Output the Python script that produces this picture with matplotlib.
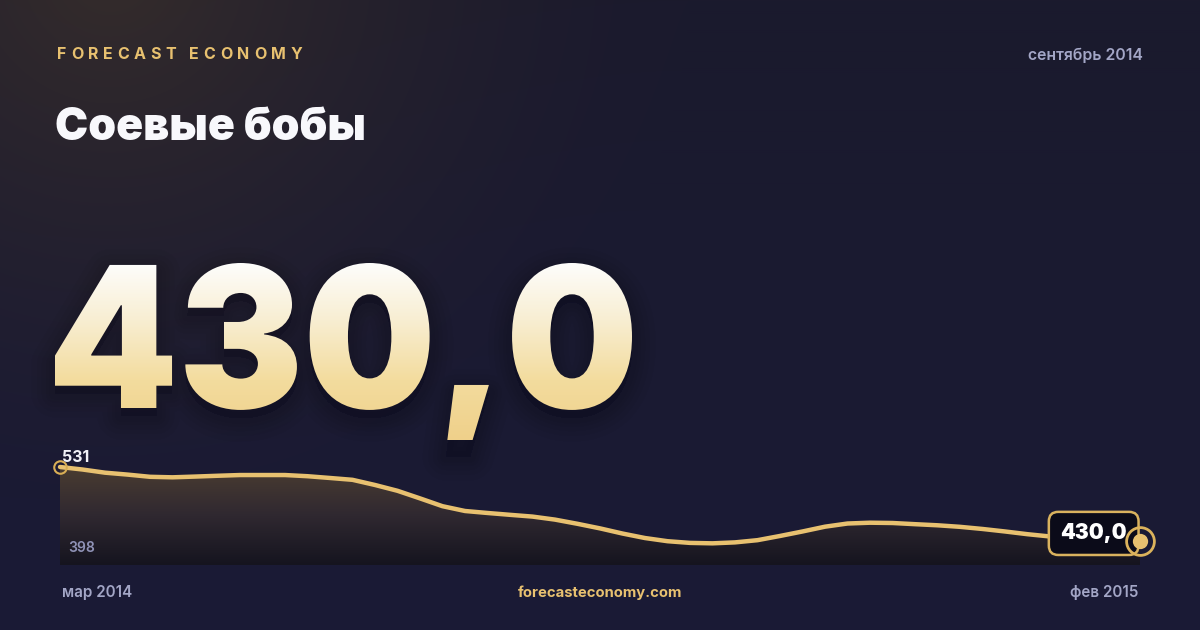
import numpy as np
import matplotlib.pyplot as plt
from matplotlib.font_manager import FontProperties
from matplotlib.textpath import TextPath, text_to_path
from matplotlib.patches import PathPatch
from matplotlib.transforms import Affine2D
from matplotlib.colors import LinearSegmentedColormap, to_rgb

W, H = 1200, 630

brand = "FORECAST ECONOMY"
period = "сентябрь 2014"
title = "Соевые бобы"
current = "430,0"
start_label = "мар 2014"
end_label = "фев 2015"
site = "forecasteconomy.com"

# price path (mar 2014 .. feb 2015, evenly spaced)
prices = [531.0, 527.6, 523.3, 520.7, 517.7, 517.0, 518.0, 519.1,
          520.1, 520.1, 520.1, 518.5, 516.1, 513.6, 506.6, 498.7,
          488.4, 477.8, 471.3, 468.6, 466.1, 463.7, 459.6, 453.9,
          447.7, 440.7, 434.6, 430.3, 428.0, 427.4, 428.7, 431.7,
          437.4, 443.5, 450.0, 454.3, 455.4, 455.0, 453.4, 451.9,
          449.8, 446.9, 443.5, 439.8, 436.7, 434.9, 433.3, 431.5,
          430.0]
axis_lo, axis_hi = 398, 531

GOLD = '#e8c170'
GREY = '#a3a6c6'
FAM = ['Inter', 'Roboto', 'DejaVu Sans']

def px(v):
    return v * 0.72  # pixel size -> points at dpi 100

fig = plt.figure(figsize=(12, 6.3), dpi=100)

# background
bg = fig.add_axes([0, 0, 1, 1])
yy, xx = np.mgrid[0:H, 0:W]
t = (yy / H)[..., None]
img = np.array(to_rgb('#1b1a2d')) * (1 - t) + np.array(to_rgb('#1a1a36')) * t
r = np.hypot(xx - 110, yy + 30) / 580
glow = (np.clip(1 - r, 0, 1) ** 1.6)[..., None]
img = img * (1 - glow * 0.7) + np.array(to_rgb('#40342b')) * glow * 0.7
bg.imshow(img, extent=[0, W, H, 0], aspect='auto', zorder=0)
bg.set_xlim(0, W)
bg.set_ylim(H, 0)
bg.axis('off')

# letter-spaced brand line
bprop = FontProperties(family=FAM, weight='bold', size=px(16))
widths = []
for ch in brand:
    w, h, d = text_to_path.get_text_width_height_descent(ch, bprop, ismath=False)
    widths.append(w * 100 / 72)
track = (302 - 57 - sum(widths)) / (len(brand) - 1)
xpos = 57
for ch, w in zip(brand, widths):
    bg.text(xpos, 59, ch, color=GOLD, fontproperties=bprop, va='baseline', ha='left', zorder=4)
    xpos += w + track

bg.text(1143, 60, period, color=GREY, fontsize=px(15.8), fontweight='semibold',
        family=FAM, ha='right', va='baseline', zorder=4)
bg.text(55, 140, title, color='#f8f8fc', fontsize=px(44.5), fontweight='black',
        family=FAM, ha='left', va='baseline', zorder=4)

# big gradient number
big_prop = FontProperties(family=FAM, weight='black')
tp = TextPath((0, 0), current, size=100, prop=big_prop)
ext = tp.get_extents()
sx = (632 - 55) / ext.width
sy = 145 / ext.y1
base = 408
path = Affine2D().scale(sx, -sy).translate(55 - ext.x0 * sx, base).transform_path(tp)
shadow = Affine2D().translate(0, 8).transform_path(path)
for lw in [34, 26, 19, 13, 8]:
    bg.add_patch(PathPatch(shadow, fc='#06060e', ec='#06060e', lw=lw, alpha=0.035,
                           joinstyle='round', zorder=2))
grad = np.linspace(0, 1, 256)[:, None]
big_cmap = LinearSegmentedColormap.from_list('big', ['#fefefe', '#f8eed2', '#f3dc9e', '#efd08a'])
gim = bg.imshow(grad, extent=[45, 645, 440, 260], cmap=big_cmap, aspect='auto', zorder=3)
clip = PathPatch(path, fc='none', ec='none', transform=bg.transData)
bg.add_patch(clip)
gim.set_clip_path(clip)

# mini chart
ax = fig.add_axes([60 / W, 1 - 565 / H, 1080 / W, 98 / H], zorder=2)
ax.patch.set_alpha(0)
x = np.arange(len(prices))
ax.set_xlim(0, len(prices) - 1)
ax.set_ylim(axis_lo, axis_hi)
ax.axis('off')
poly = ax.fill_between(x, prices, axis_lo, facecolor='none', edgecolor='none')
fill_cmap = LinearSegmentedColormap.from_list('fill', ['#4a3c31', '#2f2830', '#15141f'])
fim = ax.imshow(grad, extent=[0, len(prices) - 1, axis_lo, axis_hi],
                cmap=fill_cmap, aspect='auto', zorder=1)
fim.set_clip_path(poly.get_paths()[0], ax.transData)
ax.plot(x, prices, color=GOLD, lw=3.2, solid_capstyle='round', solid_joinstyle='round',
        clip_on=False, zorder=3)
ax.plot(x[0], prices[0], 'o', ms=9, mfc='none', mec='#d9ae55', mew=1.5, clip_on=False, zorder=4)

ax.annotate(current, xy=(x[-1], prices[-1]), xytext=(-13, 8), textcoords='offset pixels',
            ha='right', va='center', color='white', fontsize=px(21), fontweight='black',
            family=FAM, annotation_clip=False, zorder=5,
            bbox=dict(boxstyle='round,pad=0.55,rounding_size=0.45', fc='#0b0b19', ec='#d9b25e', lw=1.8))
ax.plot(x[-1], prices[-1], 'o', ms=20, mfc='none', mec='#dcb35c', mew=2, clip_on=False, zorder=6)
ax.plot(x[-1], prices[-1], 'o', ms=11, mfc='#e8c170', mec='none', clip_on=False, zorder=7)

ax.annotate(str(axis_hi), xy=(0, axis_hi), xytext=(2, 5), textcoords='offset pixels',
            color='#f2f2f8', fontsize=px(16), fontweight='bold', family=FAM,
            ha='left', va='baseline', annotation_clip=False, zorder=5)
ax.annotate(str(axis_lo), xy=(0, axis_lo), xytext=(8, 13), textcoords='offset pixels',
            color='#8f92b6', fontsize=px(14), fontweight='semibold', family=FAM,
            ha='left', va='baseline', annotation_clip=False, zorder=5)

# footer
bg.text(62, 597, start_label, color=GREY, fontsize=px(15.2), fontweight='semibold',
        family=FAM, ha='left', va='baseline')
bg.text(1138, 597, end_label, color=GREY, fontsize=px(15.2), fontweight='semibold',
        family=FAM, ha='right', va='baseline')
bg.text(600, 597, site, color=GOLD, fontsize=px(14.8), fontweight='bold',
        family=FAM, ha='center', va='baseline')

fig.savefig('out.png', dpi=100)
